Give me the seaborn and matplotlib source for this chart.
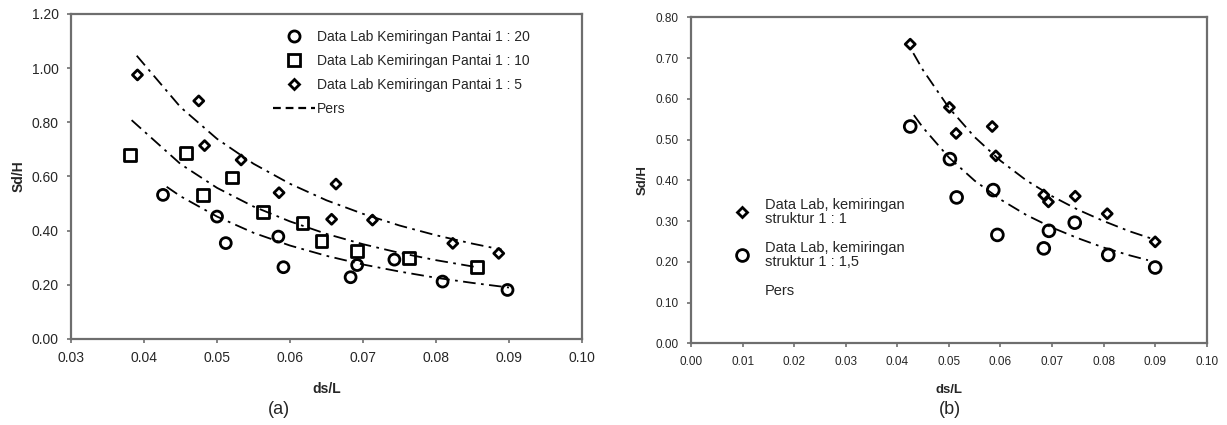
import numpy as np
import pandas as pd
import matplotlib
matplotlib.use("Agg")
import matplotlib.pyplot as plt
import seaborn as sns
from matplotlib.lines import Line2D

# ---------------- Panel (a) data ----------------
a_s20_x = [0.0426, 0.0500, 0.0512, 0.0584, 0.0591, 0.0683, 0.0692, 0.0743, 0.0809, 0.0898]
a_s20_y = [0.532, 0.452, 0.354, 0.378, 0.265, 0.228, 0.273, 0.293, 0.212, 0.181]

a_s10_x = [0.0381, 0.0457, 0.0481, 0.0521, 0.0563, 0.0617, 0.0643, 0.0692, 0.0763, 0.0856]
a_s10_y = [0.679, 0.688, 0.532, 0.596, 0.468, 0.427, 0.362, 0.326, 0.298, 0.265]

a_s5_x = [0.0391, 0.0475, 0.0483, 0.0533, 0.0585, 0.0657, 0.0663, 0.0713, 0.0823, 0.0886]
a_s5_y = [0.975, 0.879, 0.714, 0.661, 0.540, 0.442, 0.572, 0.439, 0.353, 0.316]

# "Pers" curves
a_p5_x = [0.039, 0.045, 0.050, 0.055, 0.060, 0.065, 0.070, 0.075, 0.080, 0.085, 0.089]
a_p5_y = [1.046, 0.856, 0.739, 0.647, 0.573, 0.512, 0.462, 0.419, 0.383, 0.352, 0.330]
a_p10_x = [0.0383, 0.045, 0.050, 0.055, 0.060, 0.065, 0.070, 0.075, 0.080, 0.0856]
a_p10_y = [0.808, 0.646, 0.558, 0.489, 0.434, 0.388, 0.350, 0.318, 0.291, 0.265]
a_p20_x = [0.0431, 0.045, 0.050, 0.055, 0.060, 0.065, 0.070, 0.075, 0.080, 0.085, 0.090]
a_p20_y = [0.562, 0.527, 0.452, 0.392, 0.345, 0.307, 0.275, 0.249, 0.226, 0.207, 0.190]

a_labels = ["Data Lab Kemiringan Pantai 1 : 20",
            "Data Lab Kemiringan Pantai 1 : 10",
            "Data Lab Kemiringan Pantai 1 : 5",
            "Pers"]

# ---------------- Panel (b) data ----------------
b_s1_x = [0.0425, 0.0501, 0.0514, 0.0584, 0.0591, 0.0684, 0.0693, 0.0745, 0.0807, 0.0900]
b_s1_y = [0.734, 0.579, 0.515, 0.532, 0.460, 0.364, 0.347, 0.361, 0.318, 0.249]

b_s15_x = [0.0425, 0.0502, 0.0515, 0.0586, 0.0594, 0.0684, 0.0694, 0.0744, 0.0809, 0.0900]
b_s15_y = [0.532, 0.452, 0.358, 0.376, 0.266, 0.233, 0.276, 0.296, 0.217, 0.186]

b_p1_x = [0.0431, 0.045, 0.050, 0.055, 0.060, 0.065, 0.070, 0.075, 0.080, 0.085, 0.090]
b_p1_y = [0.712, 0.670, 0.578, 0.506, 0.448, 0.400, 0.361, 0.328, 0.300, 0.275, 0.254]
b_p15_x = [0.0432, 0.045, 0.050, 0.055, 0.060, 0.065, 0.070, 0.075, 0.080, 0.085, 0.0886]
b_p15_y = [0.560, 0.529, 0.456, 0.399, 0.353, 0.315, 0.284, 0.258, 0.235, 0.216, 0.204]

b_labels = ["Data Lab, kemiringan\nstruktur 1 : 1",
            "Data Lab, kemiringan\nstruktur 1 : 1,5",
            "Pers"]

a_xticks = [0.03, 0.04, 0.05, 0.06, 0.07, 0.08, 0.09, 0.10]
a_yticks = [0.0, 0.2, 0.4, 0.6, 0.8, 1.0, 1.2]
b_xticks = [0.00, 0.01, 0.02, 0.03, 0.04, 0.05, 0.06, 0.07, 0.08, 0.09, 0.10]
b_yticks = [0.0, 0.1, 0.2, 0.3, 0.4, 0.5, 0.6, 0.7, 0.8]

# ---------------- style ----------------
sns.set_style("ticks")
plt.rcParams['font.family'] = ['Liberation Sans', 'DejaVu Sans']

fig = plt.figure(figsize=(12.27, 4.25), dpi=100)
axA = fig.add_axes([0.0579, 0.2024, 0.4164, 0.7647])
axB = fig.add_axes([0.5632, 0.1922, 0.4203, 0.7671])

SPINE = "#6e6e6e"
DASH = (0, (7, 3, 1.5, 3))


def scat(ax, x, y, marker, s, lw=2.0):
    sns.scatterplot(x=x, y=y, ax=ax, marker=marker, s=s, facecolor="none",
                    edgecolor="black", linewidth=lw, zorder=3)


def curve(ax, x, y):
    sns.lineplot(x=x, y=y, ax=ax, color="black", linewidth=1.3,
                 linestyle=DASH, estimator=None, sort=False, zorder=2)


# Panel (a)
curve(axA, a_p5_x, a_p5_y)
curve(axA, a_p10_x, a_p10_y)
curve(axA, a_p20_x, a_p20_y)
scat(axA, a_s20_x, a_s20_y, "o", 62)
scat(axA, a_s10_x, a_s10_y, "s", 72)
scat(axA, a_s5_x, a_s5_y, "D", 26, lw=2.0)

axA.set_xlim(0.03, 0.10)
axA.set_ylim(0, 1.2)
axA.set_xticks(a_xticks)
axA.set_xticklabels([f"{v:.2f}" for v in a_xticks])
axA.set_yticks(a_yticks)
axA.set_yticklabels([f"{v:.2f}" for v in a_yticks])
axA.tick_params(labelsize=10, length=3, width=1.2, color=SPINE, pad=6)
axA.set_xlabel("ds/L", fontsize=10, fontweight="bold", labelpad=12)
axA.set_ylabel("Sd/H", fontsize=10, fontweight="bold", labelpad=4)

hA = [Line2D([], [], ls="none", marker="o", ms=8, mfc="none", mec="black", mew=2.0),
      Line2D([], [], ls="none", marker="s", ms=8.5, mfc="none", mec="black", mew=2.0),
      Line2D([], [], ls="none", marker="D", ms=5.2, mfc="none", mec="black", mew=2.0),
      Line2D([], [], color="black", lw=1.6, ls=(0, (3.5, 2.2)))]
legA = axA.legend(hA, a_labels, loc="upper left", bbox_to_anchor=(0.395, 0.952),
                  frameon=False, fontsize=10, handlelength=3.0, handletextpad=0.15,
                  labelspacing=0.72, borderpad=0, borderaxespad=0)

# Panel (b)
curve(axB, b_p1_x, b_p1_y)
curve(axB, b_p15_x, b_p15_y)
scat(axB, b_s1_x, b_s1_y, "D", 26, lw=2.0)
scat(axB, b_s15_x, b_s15_y, "o", 72)

axB.set_xlim(0.0, 0.10)
axB.set_ylim(0, 0.8)
axB.set_xticks(b_xticks)
axB.set_xticklabels([f"{v:.2f}" for v in b_xticks])
axB.set_yticks(b_yticks)
axB.set_yticklabels([f"{v:.2f}" for v in b_yticks])
axB.tick_params(labelsize=8.5, length=3, width=1.2, color=SPINE, pad=6)
axB.set_xlabel("ds/L", fontsize=9.5, fontweight="bold", labelpad=12)
axB.set_ylabel("Sd/H", fontsize=9.5, fontweight="bold", labelpad=5)

hB = [Line2D([], [], ls="none", marker="D", ms=5.2, mfc="none", mec="black", mew=2.0),
      Line2D([], [], ls="none", marker="o", ms=8.5, mfc="none", mec="black", mew=2.0),
      Line2D([], [], color="none", lw=0)]
legB = axB.legend(hB, b_labels, loc="upper left", bbox_to_anchor=(0.070, 0.447),
                  frameon=False, fontsize=10.5, handlelength=2.0, handletextpad=0.6,
                  labelspacing=1.0, borderpad=0, borderaxespad=0)
for t in legB.get_texts():
    t.set_linespacing(1.05)

for ax in (axA, axB):
    for sp in ax.spines.values():
        sp.set_visible(True)
        sp.set_color(SPINE)
        sp.set_linewidth(1.6)

fig.text(279 / 1227, 1 - 410 / 425, "(a)", fontsize=13, ha="center", va="center")
fig.text(950 / 1227, 1 - 410 / 425, "(b)", fontsize=13, ha="center", va="center")

fig.savefig("out.png", dpi=100)
